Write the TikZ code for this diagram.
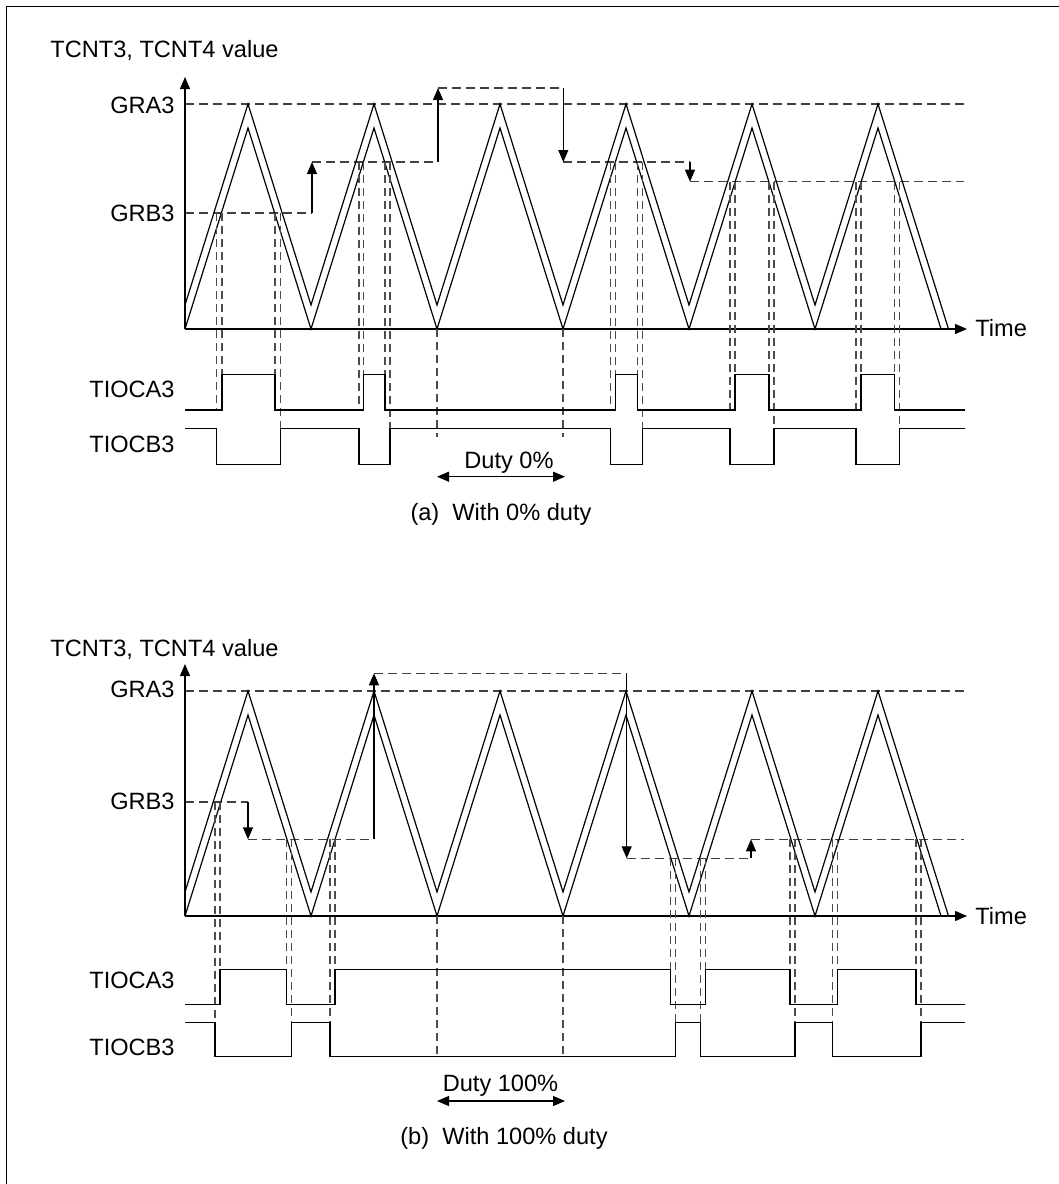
\documentclass[tikz,border=0pt]{standalone}
\usepackage{fontspec}
\setmainfont{Liberation Sans}
\usepackage{tikz}
\usetikzlibrary{arrows.meta}

\begin{document}
\begin{tikzpicture}[x=0.5pt, y=-0.5pt,
    lbl/.style={font=\fontsize{11.8}{14}\selectfont, inner sep=0pt},
    wave/.style={line width=0.6pt},
    sig/.style={line width=0.6pt},
    level/.style={line width=0.55pt, black!75, dash pattern=on 4.5pt off 2.5pt},
    guide/.style={line width=0.55pt, black!70, dash pattern=on 4pt off 2.5pt},
    arrow/.style={-{Triangle[length=6pt,width=5pt]}, line width=0.6pt},
    duty/.style={{Triangle[length=6pt,width=5pt]}-{Triangle[length=6pt,width=5pt]}, line width=0.6pt}
  ]
  \useasboundingbox (0,0) rectangle (1059,1184);
  \draw[line width=0.5pt] (6,1184) -- (6,6) -- (1059,6);

  % (a) With 0% duty
  \node[lbl, anchor=base west] (cnta) at (50,57.3) {TCNT3, TCNT4 value};
  \node[lbl, anchor=base east] (graa) at (175,113.5) {GRA3};
  \node[lbl, anchor=base east] (grba) at (175,221.7) {GRB3};
  \node[lbl, anchor=base west] (timea) at (975,336.7) {Time};
  \node[lbl, anchor=base east] (ocaa) at (175,397) {TIOCA3};
  \node[lbl, anchor=base east] (ocba) at (175,452.7) {TIOCB3};
  \node[lbl, anchor=base] (dutya) at (509,468.3) {Duty 0\%};
  \node[lbl, anchor=base] (capa) at (501,520.6) {(a)\ \ With 0\% duty};

  \coordinate (oa) at (185,329);
  \coordinate (ya) at (185,77);
  \coordinate (ta) at (967,329);
  \coordinate (da1) at (437,476.7);
  \coordinate (da2) at (565,476.7);

  \draw[level] (185,104) -- (964,104);
  \draw[level] (185,213) -- (312,213);
  \draw[level] (312,162) -- (438,162);
  \draw[level] (438,88) -- (563.3,88);
  \draw[level] (563.3,162) -- (690,162);
  \draw[level] (690,181.7) -- (964,181.7);
  \draw[arrow] (312,213) -- (312,162);
  \draw[arrow] (438,162) -- (438,88);
  \draw[arrow] (563.3,88) -- (563.3,162);
  \draw[arrow] (690,162) -- (690,181.7);

  \draw[wave] (185,329) -- (248,128) -- (311,329) -- (374,128) -- (437,329) -- (500,128) -- (563,329)
    -- (626,128) -- (689,329) -- (752,128) -- (815,329) -- (878,128) -- (941,329);
  \draw[wave] (185,305) -- (248,104) -- (311,305) -- (374,104) -- (437,305) -- (500,104) -- (563,305)
    -- (626,104) -- (689,305) -- (752,104) -- (815,305) -- (878,104) -- (948.5,329);
  \draw[arrow] (oa) -- (ya);
  \draw[arrow] (oa) -- (ta);

  \draw[guide] (216.7,213) -- (216.7,410) (222,213) -- (222,410)
    (275,213) -- (275,410) (280.7,213) -- (280.7,428.7)
    (359,162) -- (359,410) (363.3,162) -- (363.3,410)
    (385,162) -- (385,410) (390,162) -- (390,428.7)
    (437,329) -- (437,437) (563,329) -- (563,437)
    (610.7,162) -- (610.7,410) (615.7,162) -- (615.7,410)
    (637.3,162) -- (637.3,410) (642.3,162) -- (642.3,428.7)
    (730,181.7) -- (730,410) (735,181.7) -- (735,410)
    (769,181.7) -- (769,410) (774,181.7) -- (774,428.7)
    (856,181.7) -- (856,410) (861,181.7) -- (861,410)
    (894.3,181.7) -- (894.3,410) (899.3,181.7) -- (899.3,428.7);

  \draw[sig] (185,410) -- (222,410) -- (222,374.3) -- (275,374.3) -- (275,410) -- (363.3,410)
    -- (363.3,374.3) -- (385,374.3) -- (385,410) -- (615.7,410) -- (615.7,374.3) -- (637.3,374.3)
    -- (637.3,410) -- (735,410) -- (735,374.3) -- (769,374.3) -- (769,410) -- (861,410)
    -- (861,374.3) -- (894.3,374.3) -- (894.3,410) -- (965,410);
  \draw[sig] (185,428.7) -- (216.7,428.7) -- (216.7,464.3) -- (280.7,464.3) -- (280.7,428.7)
    -- (359,428.7) -- (359,464.3) -- (390,464.3) -- (390,428.7) -- (610.7,428.7) -- (610.7,464.3)
    -- (642.3,464.3) -- (642.3,428.7) -- (730,428.7) -- (730,464.3) -- (774,464.3) -- (774,428.7)
    -- (856,428.7) -- (856,464.3) -- (899.3,464.3) -- (899.3,428.7) -- (965,428.7);
  \draw[duty] (da1) -- (da2);

  % (b) With 100% duty
  \node[lbl, anchor=base west] (cntb) at (50,656) {TCNT3, TCNT4 value};
  \node[lbl, anchor=base east] (grab) at (175,697.3) {GRA3};
  \node[lbl, anchor=base east] (grbb) at (175,809.3) {GRB3};
  \node[lbl, anchor=base west] (timeb) at (975,924) {Time};
  \node[lbl, anchor=base east] (ocab) at (175,988.3) {TIOCA3};
  \node[lbl, anchor=base east] (ocbb) at (175,1055) {TIOCB3};
  \node[lbl, anchor=base] (dutyb) at (500.5,1091.7) {Duty 100\%};
  \node[lbl, anchor=base] (capb) at (504,1144) {(b)\ \ With 100\% duty};

  \begin{scope}[shift={(0,587)}]
    \coordinate (ob) at (185,329);
    \coordinate (yb) at (185,77);
    \coordinate (tb) at (967,329);

    \draw[level] (185,104) -- (964,104);
    \draw[level] (185,215) -- (248,215);
    \draw[level] (248,252.3) -- (374,252.3);
    \draw[level] (374,86.3) -- (626.7,86.3);
    \draw[level] (626.7,271.3) -- (751,271.3);
    \draw[level] (751,252.3) -- (964,252.3);

    \draw[wave] (185,329) -- (248,128) -- (311,329) -- (374,128) -- (437,329) -- (500,128) -- (563,329)
      -- (626,128) -- (689,329) -- (752,128) -- (815,329) -- (878,128) -- (941,329);
    \draw[wave] (185,305) -- (248,104) -- (311,305) -- (374,104) -- (437,305) -- (500,104) -- (563,305)
      -- (626,104) -- (689,305) -- (752,104) -- (815,305) -- (878,104) -- (948.5,329);
    \draw[arrow] (248,215) -- (248,252.3);
    \draw[arrow] (374,252.3) -- (374,86.3);
    \draw[arrow] (626.7,86.3) -- (626.7,271.3);
    \draw[arrow] (751,271.3) -- (751,252.3);
    \draw[arrow] (ob) -- (yb);
    \draw[arrow] (ob) -- (tb);
  \end{scope}

  \coordinate (db1) at (437,1101);
  \coordinate (db2) at (565,1101);

  \draw[guide] (215,802) -- (215,1022.3) (220,802) -- (220,1004.7)
    (286.7,839.3) -- (286.7,1004.7) (291.7,839.3) -- (291.7,1022.3)
    (330,839.3) -- (330,1022.3) (335,839.3) -- (335,1004.7)
    (437,916) -- (437,1056.7) (563,916) -- (563,1056.7)
    (670.7,858.3) -- (670.7,1004.7) (675.7,858.3) -- (675.7,1022.3)
    (700.7,858.3) -- (700.7,1022.3) (705.7,858.3) -- (705.7,1004.7)
    (790,839.3) -- (790,1004.7) (795,839.3) -- (795,1022.3)
    (832.7,839.3) -- (832.7,1022.3) (837.3,839.3) -- (837.3,1004.7)
    (916,839.3) -- (916,1004.7) (921,839.3) -- (921,1022.3);

  \draw[sig] (185,1004.7) -- (220,1004.7) -- (220,969.3) -- (286.7,969.3) -- (286.7,1004.7)
    -- (335,1004.7) -- (335,969.3) -- (670.7,969.3) -- (670.7,1004.7) -- (705.7,1004.7)
    -- (705.7,969.3) -- (790,969.3) -- (790,1004.7) -- (837.3,1004.7) -- (837.3,969.3)
    -- (916,969.3) -- (916,1004.7) -- (965,1004.7);
  \draw[sig] (185,1022.3) -- (215,1022.3) -- (215,1056.7) -- (291.7,1056.7) -- (291.7,1022.3)
    -- (330,1022.3) -- (330,1056.7) -- (675.7,1056.7) -- (675.7,1022.3) -- (700.7,1022.3)
    -- (700.7,1056.7) -- (795,1056.7) -- (795,1022.3) -- (832.7,1022.3) -- (832.7,1056.7)
    -- (921,1056.7) -- (921,1022.3) -- (965,1022.3);
  \draw[duty] (db1) -- (db2);
\end{tikzpicture}
\end{document}
